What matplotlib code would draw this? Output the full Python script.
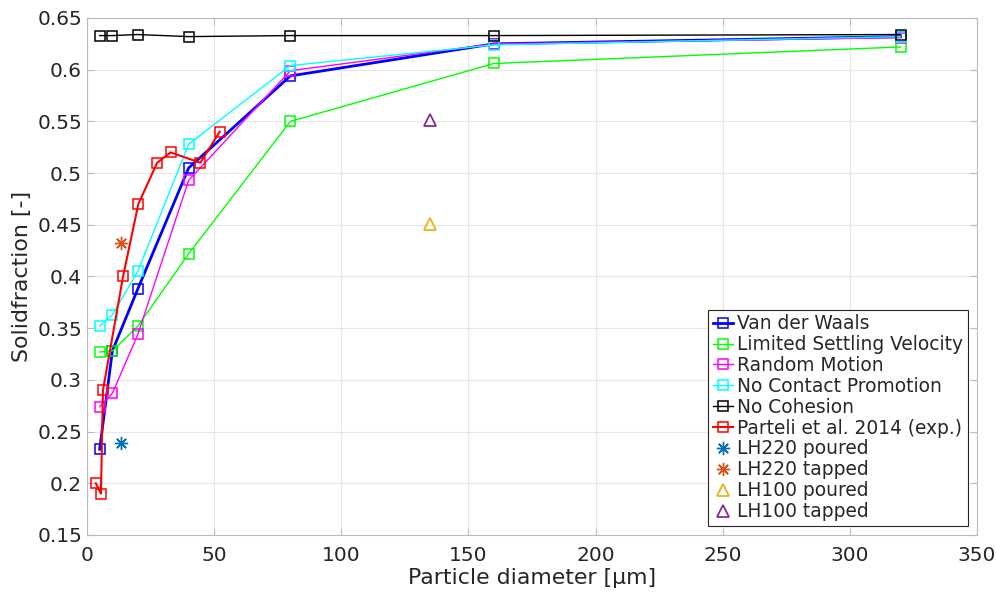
import matplotlib
matplotlib.use("Agg")
import matplotlib.pyplot as plt
import numpy as np

# simulation particle sizes [um]
diam = [5, 10, 20, 40, 80, 160, 320]

vdw = [0.233, 0.328, 0.388, 0.505, 0.594, 0.625, 0.632]
settling = [0.327, 0.328, 0.352, 0.422, 0.550, 0.606, 0.622]
random_motion = [0.274, 0.287, 0.344, 0.493, 0.599, 0.625, 0.631]
no_contact = [0.352, 0.363, 0.405, 0.528, 0.604, 0.624, 0.632]
no_cohesion = [0.633, 0.633, 0.634, 0.632, 0.633, 0.633, 0.634]

# experiment (Parteli et al. 2014)
parteli_d = [3.5, 5.5, 6.3, 14.2, 20.2, 27.6, 32.9, 44.6, 52.2]
parteli_phi = [0.200, 0.190, 0.290, 0.400, 0.470, 0.510, 0.520, 0.510, 0.540]

# powder measurements
lh220_d = [13.3]
lh220_poured = [0.239]
lh220_tapped = [0.432]
lh100_d = [135]
lh100_poured = [0.451]
lh100_tapped = [0.551]

txt = '#262626'
plt.rcParams['font.family'] = 'DejaVu Sans'

fig = plt.figure(figsize=(9.96, 5.92), dpi=100)
ax = fig.add_axes([0.0873, 0.0963, 0.8936, 0.8733])

sq = dict(marker='s', mfc='none', ms=6.5, mew=1.1)
ax.plot(diam, vdw, color='#0000ff', lw=2.0, label='Van der Waals', **sq)
ax.plot(diam, settling, color='#00ff00', lw=1.0, label='Limited Settling Velocity', **sq)
ax.plot(diam, random_motion, color='#ff00ff', lw=1.0, label='Random Motion', **sq)
ax.plot(diam, no_contact, color='#00ffff', lw=1.0, label='No Contact Promotion', **sq)
ax.plot(diam, no_cohesion, color='#000000', lw=1.0, label='No Cohesion', **sq)
ax.plot(parteli_d, parteli_phi, color='#ff0000', lw=1.5, label='Parteli et al. 2014 (exp.)', **sq)

star = (8, 2, 0)
ax.plot(lh220_d, lh220_poured, ls='none', marker=star, ms=9.5, mew=1.0,
        color='#0072bd', label='LH220 poured')
ax.plot(lh220_d, lh220_tapped, ls='none', marker=star, ms=9.5, mew=1.0,
        color='#d95319', label='LH220 tapped')
ax.plot(lh100_d, lh100_poured, ls='none', marker='^', mfc='none', ms=9, mew=1.3,
        color='#edb120', label='LH100 poured')
ax.plot(lh100_d, lh100_tapped, ls='none', marker='^', mfc='none', ms=9, mew=1.3,
        color='#7e2f8e', label='LH100 tapped')

ax.set_xlim(0, 350)
ax.set_ylim(0.15, 0.65)
ax.set_xticks(np.arange(0, 351, 50))
ax.set_yticks(np.arange(0.15, 0.651, 0.05))
ax.set_yticklabels(['0.15', '0.2', '0.25', '0.3', '0.35', '0.4', '0.45',
                    '0.5', '0.55', '0.6', '0.65'])
ax.grid(True, color='#e6e6e6', lw=0.8)
ax.set_axisbelow(True)
ax.tick_params(direction='in', length=5, width=0.8, colors='#bbbbbb',
               labelcolor=txt, labelsize=14.5, top=True, right=True)
ax.tick_params(axis='x', pad=8)
for s in ax.spines.values():
    s.set_color('#bbbbbb')
    s.set_linewidth(0.8)

ax.set_xlabel('Particle diameter [µm]', fontsize=15.8, color=txt, labelpad=2)
ax.set_ylabel('Solidfraction [-]', fontsize=15.8, color=txt, labelpad=4)

leg = ax.legend(loc='lower right', fontsize=13.4, handlelength=1.1,
                handletextpad=0.2, borderpad=0.25, labelspacing=0.1,
                fancybox=False, framealpha=1, borderaxespad=0.5)
leg.get_frame().set_edgecolor('#262626')
leg.get_frame().set_linewidth(0.8)
for t in leg.get_texts():
    t.set_color(txt)

fig.savefig('out.png', dpi=100)
